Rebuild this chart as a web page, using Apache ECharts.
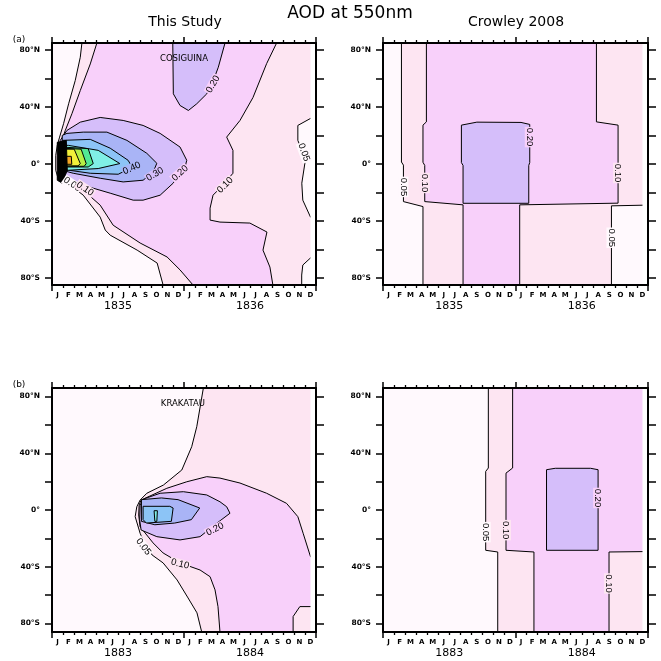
<!DOCTYPE html>
<html><head><meta charset="utf-8">
<script src="https://cdn.jsdelivr.net/npm/echarts@6/dist/echarts.min.js"></script>
<style>html,body{margin:0;padding:0;background:#fff}#c{width:661px;height:661px}</style>
</head><body><div id="c"></div>
<script>
// ---------- axis text ----------
const months = ['J','F','M','A','M','J','J','A','S','O','N','D'];
const yearsA = ['1835','1836'];
const yearsB = ['1883','1884'];
const latTicks = [-80,-60,-40,-20,0,20,40,60,80];
const latLabels = [-80,-40,0,40,80];
const levelNames = ['0.05','0.10','0.20','0.30','0.40'];
// band colours: <0.05, 0.05-0.10, 0.10-0.20, 0.20-0.30, 0.30-0.40, 0.40-0.50, 0.50-0.60, 0.60-0.70, 0.70-0.80, 0.80-0.90, >0.90, core
const bandColors = ['#fff9fd','#fde5f2','#f8d0fa','#d5befa','#a9b4f6','#8cc4f6','#80efe6','#52e894','#b6f046','#f2f03a','#f5a623','#000000'];

// ---------- contour polygons [month, latitude] ----------
const fullDomain = [[-1,-90],[25,-90],[25,90],[-1,90]];

// (a) This Study - Cosiguina
const a_c05 = [[2.72,85],[2.57,75.0],[2.11,58.6],[1.51,42.3],[1.05,28.3],[0.69,18.9],[0.48,13.1],[0.34,6.1],[0.34,-4.4],[0.6,-11.4],[1.66,-14.9],[2.84,-21.9],[4.38,-37.3],[4.84,-46.4],[5.29,-50.0],[7.74,-60.5],[9.56,-69.6],[10.1,-85],[10.1,-90],[25,-90],[25,90],[2.72,90]];
const a_w05r = [[25,32],[23.5,32],[22.35,27.1],[22.35,16.6],[22.71,9.6],[22.99,0.5],[22.71,-13.5],[22.80,-25.4],[23.5,-37.3],[25,-37.3]];
const a_w05b = [[25,-66],[23.5,-66],[22.8,-71],[22.7,-78],[22.7,-90],[25,-90]];
const a_c10 = [[4.08,85],[3.48,70.3],[2.57,51.6],[1.81,35.3],[1.21,23.6],[0.84,15.4],[0.66,9.6],[0.66,-5.8],[1.12,-11.4],[2.84,-18.4],[4.38,-28.9],[5.56,-43.0],[8.01,-55.5],[10.46,-65.3],[11.64,-74.4],[12.82,-85],[12.82,-90],[20.08,-90],[20.08,-85],[19.81,-72.4],[19.18,-60.5],[19.54,-47.8],[17.99,-41.5],[15.27,-40.8],[14.37,-39.4],[14.37,-31.0],[14.64,-21.9],[15.45,-15.6],[16.45,-6.5],[16.45,9.6],[15.88,18.9],[17.09,30.6],[18.27,46.7],[19.51,70.5],[20.42,85],[20.42,90],[4.08,90]];
const a_c20n = [[10.98,85],[11.03,49.3],[11.64,41.1],[12.40,37.6],[13.16,42.3],[14.07,49.3],[14.67,58.6],[15.12,68.0],[15.73,85],[15.73,90],[10.98,90]];
const a_c20 = [[0.75,16.6],[1.36,23.6],[2.57,29.4],[4.38,32.7],[6.47,30.6],[8.28,27.1],[9.83,21.5],[11.64,11.9],[12.25,2.6],[12.10,-2.1],[11.01,-13.5],[9.83,-21.9],[8.28,-25.4],[7.38,-25.4],[5.29,-20.5],[3.75,-17.0],[2.30,-13.5],[0.93,-9.3]];
const a_c30 = [[0.93,20.1],[1.36,21.5],[2.84,22.4],[4.99,22.4],[6.81,16.6],[8.62,7.5],[9.53,0.5],[9.19,-5.8],[8.28,-11.4],[6.47,-12.6],[4.38,-10.0],[1.93,-6.5],[0.93,-4.4]];
const a_c40 = [[0.93,16.6],[3.48,17.3],[5.29,11.1],[6.92,2.6],[7.29,-2.3],[6.02,-7.2],[3.48,-6.5],[0.93,-3.7]];
const a_c50 = [[0.93,13.1],[1.48,13.1],[4.20,9.6],[6.17,0.3],[4.20,-3.2],[1.48,-4.4],[0.93,-4.4]];
const a_c60 = [[0.93,11.9],[3.29,10.8],[3.75,0.3],[3.29,-2.1],[0.93,-2.1]];
const a_c70 = [[0.93,11.1],[2.65,10.4],[3.11,0.3],[2.93,-1.6],[0.93,-1.6]];
const a_c80 = [[0.93,10.4],[2.02,10.4],[2.57,0.3],[2.38,-1.3],[0.93,-1.3]];
const a_c90 = [[1.30,5.4],[1.75,5.4],[1.80,-0.2],[1.30,-0.2]];
const a_core = [[0.48,15.2],[1.30,16.6],[1.39,-4.4],[0.93,-13.5],[0.48,-11.4]];

// (a) Crowley 2008 - 1835/36
const b_c05 = [[1.67,90],[1.67,1.4],[1.85,-0.8],[1.85,-26.4],[3.62,-29.9],[3.62,-90],[20.69,-90],[20.69,-29.4],[25,-28.7],[25,90]];
const b_c10 = [[3.93,90],[3.93,29.6],[3.62,27.3],[3.62,1.2],[3.78,-1.0],[3.78,-26.4],[7.25,-28.7],[7.25,-90],[12.38,-90],[12.38,-28.7],[21.29,-27.5],[21.29,27.3],[19.33,29.6],[19.33,90]];
const b_c20 = [[7.1,1.0],[7.1,27.3],[8.5,29.4],[12.5,29.2],[13.29,27.8],[13.29,1.0],[13.2,-1.0],[13.2,-27.6],[7.25,-27.6],[7.25,-1.0]];

// (b) This Study - Krakatau
const c_c05 = [[13.76,86],[13.16,58.7],[12.70,44.6],[11.80,28.2],[10.13,17.6],[8.62,11.8],[8.01,7.0],[7.71,2.3],[7.56,-4.7],[8.01,-16.4],[8.47,-24.6],[9.10,-31.7],[10.10,-37.3],[11.37,-49.3],[12.37,-62.0],[13.18,-72.5],[13.61,-86],[13.61,-90],[25,-90],[25,90],[13.76,90]];
const c_c10 = [[25,-33],[23.5,-32.9],[22.83,-16.4],[22.35,-4.7],[21.32,4.7],[19.51,11.8],[17.09,19.0],[15.27,22.5],[14.07,23.5],[12.25,19.9],[10.44,15.3],[8.10,7.0],[7.92,3.5],[7.88,-3.5],[8.01,-11.8],[9.19,-23.2],[10.10,-30.3],[11.64,-37.3],[13.46,-42.3],[14.37,-47.0],[14.82,-56.3],[15.09,-68.1],[15.27,-86],[15.27,-90],[21.92,-90],[21.92,-75.1],[22.53,-68.1],[25,-68.1]];
const c_c20 = [[8.31,7.7],[9.83,11.8],[11.94,12.9],[14.07,10.6],[15.27,5.8],[15.88,2.3],[16.18,-2.3],[14.97,-9.4],[13.46,-18.8],[11.64,-21.1],[9.53,-18.8],[8.10,-14.1],[7.97,-7.0],[8.01,3.5]];
const c_c30 = [[8.13,7.3],[9.95,8.5],[11.46,7.3],[13.43,1.4],[12.67,-6.8],[11.16,-9.2],[9.35,-10.4],[8.13,-8.0]];
const c_c40 = [[8.28,2.6],[10.71,2.6],[11.01,1.4],[10.85,-8.0],[8.58,-9.2],[8.28,-6.8]];
const c_c50 = [[9.28,-0.5],[9.58,-0.5],[9.53,-8.0],[9.35,-8.0]];

// (b) Crowley 2008 - 1883/84
const d_c05 = [[9.54,90],[9.54,29.6],[9.30,27.2],[9.30,-28.4],[10.39,-29.6],[10.39,-90],[25,-90],[25,90]];
const d_c10 = [[11.74,90],[11.74,29.6],[11.14,26.0],[11.14,-28.4],[13.67,-29.6],[13.67,-90],[20.47,-90],[20.47,-29.6],[25,-29.2],[25,90]];
const d_c20 = [[14.81,-28.4],[14.81,28.4],[15.6,29.4],[18.8,29.4],[19.48,28.4],[19.48,-28.4]];

// ---------- contour labels [text, month, latitude, angle] ----------
const a_labels = [['0.20',14.64,56,60],['0.40',7.26,-3.0,25],['0.30',9.37,-7.2,32],['0.20',11.64,-6.5,42],['0.10',15.74,-14.9,45],['0.05',22.9,8.2,-70],['0.05',1.84,-14.3,-34],['0.10',3.0,-17.5,-34],['COSIGUINA',12.0,74,0]];
const b_labels = [['0.20',13.29,18.9,-90],['0.05',1.85,-16.1,-90],['0.10',3.78,-13.3,-90],['0.10',21.29,-6.3,-90],['0.05',20.69,-51.8,-90]];
const c_labels = [['0.20',14.82,-13.6,27],['0.10',11.64,-38.1,-14],['0.05',8.31,-25.9,-52],['KRAKATAU',11.9,74.6,0]];
const d_labels = [['0.20',19.48,8.5,-90],['0.05',9.30,-15.6,-90],['0.10',11.14,-14.2,-90],['0.10',20.47,-51.8,-90]];

const panelA = [[0,fullDomain],[1,a_c05],[0,a_w05r],[0,a_w05b],[2,a_c10],[3,a_c20n],[3,a_c20],[4,a_c30],[5,a_c40],[6,a_c50],[7,a_c60],[8,a_c70],[9,a_c80],[10,a_c90],[11,a_core]];
const panelB = [[0,fullDomain],[1,b_c05],[2,b_c10],[3,b_c20]];
const panelC = [[0,fullDomain],[1,c_c05],[2,c_c10],[3,c_c20],[4,c_c30],[5,c_c40],[6,c_c50]];
const panelD = [[0,fullDomain],[1,d_c05],[2,d_c10],[3,d_c20]];

// ---------- layout ----------
const grids = [
  {left:52, top:43, width:264, height:242},
  {left:383, top:43, width:265, height:242},
  {left:52, top:388, width:264, height:244},
  {left:383, top:388, width:265, height:244}
];
const yMaxes = [85,85,86,86];
const panelYears = [yearsA, yearsA, yearsB, yearsB];
const panels = [panelA, panelB, panelC, panelD];
const panelLabels = [a_labels, b_labels, c_labels, d_labels];
const monthCenters = [];
for (let i = 0; i < 24; i++) monthCenters.push(i + 0.5);

const latFmt = v => v === 0 ? '0°' : Math.abs(v) + '°' + (v > 0 ? 'N' : 'S');
const xAxes = [], yAxes = [], series = [];
const black = '#000';

grids.forEach((g, gi) => {
  const yMax = yMaxes[gi];
  const yrs = panelYears[gi];
  xAxes.push({type:'value', gridIndex:gi, position:'bottom', min:0, max:24, interval:12, z:5,
    axisLine:{show:true, onZero:false, lineStyle:{color:black, width:2}},
    axisTick:{show:true, length:6, lineStyle:{color:black, width:1.5}},
    minorTick:{show:true, splitNumber:12, length:3, lineStyle:{color:black, width:1.3}},
    splitLine:{show:false}, minorSplitLine:{show:false},
    axisLabel:{show:true, customValues:monthCenters, formatter:v => months[Math.floor(v) % 12],
      margin:7, fontSize:7, fontWeight:'bold', fontFamily:'DejaVu Sans', color:black}});
  xAxes.push({type:'value', gridIndex:gi, position:'bottom', offset:13, min:0, max:24, z:5,
    axisLine:{show:false}, axisTick:{show:false}, splitLine:{show:false},
    axisLabel:{show:true, customValues:[6,18], formatter:v => yrs[v < 12 ? 0 : 1],
      margin:3, fontSize:11, fontFamily:'DejaVu Sans', color:black}});
  xAxes.push({type:'value', gridIndex:gi, position:'top', min:0, max:24, interval:12, z:5,
    axisLine:{show:true, onZero:false, lineStyle:{color:black, width:2}},
    axisTick:{show:true, length:6, lineStyle:{color:black, width:1.5}},
    minorTick:{show:true, splitNumber:12, length:3, lineStyle:{color:black, width:1.3}},
    splitLine:{show:false}, minorSplitLine:{show:false}, axisLabel:{show:false}});
  yAxes.push({type:'value', gridIndex:gi, position:'left', min:-yMax, max:yMax, z:5,
    axisLine:{show:true, onZero:false, lineStyle:{color:black, width:2}},
    axisTick:{show:true, customValues:latTicks, length:7, lineStyle:{color:black, width:1.5}},
    splitLine:{show:false},
    axisLabel:{show:true, customValues:latLabels, formatter:latFmt, margin:12,
      fontSize:7.5, fontWeight:'bold', fontFamily:'DejaVu Sans', color:black}});
  yAxes.push({type:'value', gridIndex:gi, position:'right', min:-yMax, max:yMax, z:5,
    axisLine:{show:true, onZero:false, lineStyle:{color:black, width:2}},
    axisTick:{show:true, customValues:latTicks, length:8, lineStyle:{color:black, width:1.5}},
    splitLine:{show:false}, axisLabel:{show:false}});

  const shapes = panels[gi];
  series.push({type:'custom', xAxisIndex:gi*3, yAxisIndex:gi*2, clip:true, silent:true,
    data: shapes.map((s, i) => [i]),
    renderItem: (params, api) => {
      const s = shapes[params.dataIndex];
      const pts = s[1].map(p => api.coord(p));
      return {type:'polygon', shape:{points:pts},
        style:{fill:bandColors[s[0]], stroke:'#000', lineWidth:1, lineJoin:'round'}};
    }});
  // blank strip past the last data column
  series.push({type:'custom', xAxisIndex:gi*3, yAxisIndex:gi*2, clip:true, silent:true,
    data:[[0]],
    renderItem: (params, api) => {
      const a = api.coord([23.5, yMax]);
      const b = api.coord([24.2, -yMax]);
      return {type:'rect', shape:{x:a[0], y:a[1], width:b[0]-a[0], height:b[1]-a[1]},
        style:{fill:'#ffffff'}};
    }});
  const labs = panelLabels[gi];
  series.push({type:'custom', xAxisIndex:gi*3, yAxisIndex:gi*2, clip:false, silent:true,
    data: labs.map((l, i) => [i]),
    renderItem: (params, api) => {
      const L = labs[params.dataIndex];
      const p = api.coord([L[1], L[2]]);
      const lvl = levelNames.indexOf(L[0]);
      const isName = lvl < 0;
      return {type:'text', x:p[0], y:p[1], rotation:L[3] * Math.PI / 180,
        style:{text:L[0], fill:black,
          fontSize: isName ? 8.5 : 9.5,
          fontFamily: isName ? 'DejaVu Sans' : 'Liberation Sans',
          align:'center', verticalAlign:'middle',
          backgroundColor: isName ? 'transparent' : bandColors[lvl],
          padding: isName ? 0 : [0, 1]}};
    }});
});

const chart = echarts.init(document.getElementById('c'), null, {renderer:'canvas'});
chart.setOption({
  animation:false,
  backgroundColor:'#ffffff',
  grid: grids,
  xAxis: xAxes,
  yAxis: yAxes,
  series: series,
  graphic: [
    {type:'text', x:350, y:14, style:{text:'AOD at 550nm', fontSize:17, fontFamily:'DejaVu Sans', fill:black, align:'center', verticalAlign:'middle', textAlign:'center', textVerticalAlign:'middle'}},
    {type:'text', x:185, y:22, style:{text:'This Study', fontSize:14, fontFamily:'DejaVu Sans', fill:black, align:'center', verticalAlign:'middle', textAlign:'center', textVerticalAlign:'middle'}},
    {type:'text', x:516, y:22, style:{text:'Crowley 2008', fontSize:14, fontFamily:'DejaVu Sans', fill:black, align:'center', verticalAlign:'middle', textAlign:'center', textVerticalAlign:'middle'}},
    {type:'text', x:19, y:40, style:{text:'(a)', fontSize:9, fontFamily:'DejaVu Sans', fill:black, align:'center', verticalAlign:'middle', textAlign:'center', textVerticalAlign:'middle'}},
    {type:'text', x:19, y:385, style:{text:'(b)', fontSize:9, fontFamily:'DejaVu Sans', fill:black, align:'center', verticalAlign:'middle', textAlign:'center', textVerticalAlign:'middle'}}
  ]
});
</script>
</body></html>
